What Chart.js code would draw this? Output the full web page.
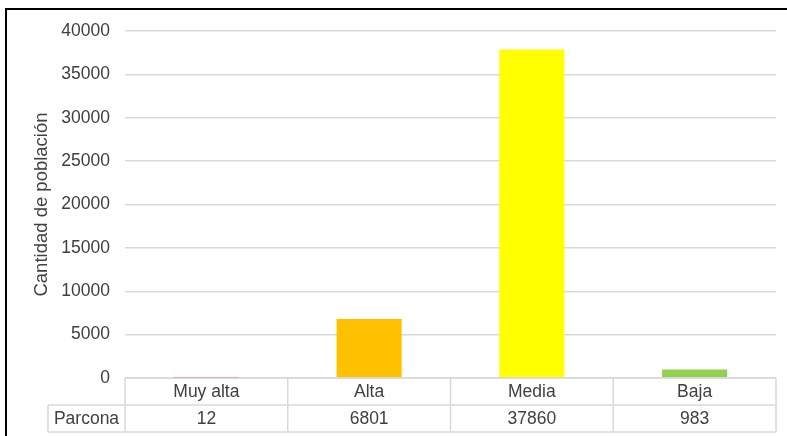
<!DOCTYPE html>
<html>
<head>
<meta charset="utf-8">
<script src="https://cdn.jsdelivr.net/npm/chart.js@4/dist/chart.umd.min.js"></script>
<style>
  html, body { margin: 0; padding: 0; background: #fff; overflow: hidden; }
  #wrap { position: relative; width: 787px; height: 436px; }
  #frame {
    position: absolute; left: 5px; top: 8px; width: 900px; height: 600px;
    border-left: 2px solid #000; border-top: 2px solid #000; pointer-events: none;
  }
</style>
</head>
<body>
<div id="wrap">
  <canvas id="myChart" width="787" height="436"></canvas>
  <div id="frame"></div>
</div>
<script>
var categories = ['Muy alta', 'Alta', 'Media', 'Baja'];
var seriesName = 'Parcona';
var poblacion = [12, 6801, 37860, 983];
var barColors = ['#FF0000', '#FFC000', '#FFFF00', '#92D050'];
var yTicks = [0, 5000, 10000, 15000, 20000, 25000, 30000, 35000, 40000];

var textColor = '#404040';
var lineColor = '#d9d9d9';
var fontFamily = '"Liberation Sans", Arial, sans-serif';
var fontSize = 17.5;

// tabla de datos bajo el eje X (como en Excel)
var dataTable = {
  id: 'dataTable',
  afterDraw: function (chart) {
    var ctx = chart.ctx;
    var x = chart.scales.x;
    var area = chart.chartArea;
    var n = categories.length;
    var colW = (area.right - area.left) / n;
    var rowH = 27;
    var top = area.bottom;
    var mid = top + rowH;
    var bottom = mid + rowH;
    var labelLeft = 48;

    ctx.save();
    ctx.strokeStyle = lineColor;
    ctx.lineWidth = 1.5;
    ctx.beginPath();
    ctx.moveTo(area.left, top); ctx.lineTo(area.right, top);
    ctx.moveTo(labelLeft, mid); ctx.lineTo(area.right, mid);
    ctx.moveTo(labelLeft, bottom); ctx.lineTo(area.right, bottom);
    ctx.moveTo(labelLeft, mid); ctx.lineTo(labelLeft, bottom);
    for (var i = 0; i <= n; i++) {
      var bx = area.left + i * colW;
      ctx.moveTo(bx, top); ctx.lineTo(bx, bottom);
    }
    ctx.stroke();

    ctx.fillStyle = textColor;
    ctx.font = fontSize + 'px ' + fontFamily;
    ctx.textAlign = 'center';
    ctx.textBaseline = 'middle';
    for (var j = 0; j < n; j++) {
      var cx = x.getPixelForValue(j);
      ctx.fillText(categories[j], cx, top + rowH / 2 + 1);
      ctx.fillText(String(poblacion[j]), cx, mid + rowH / 2 + 1);
    }
    ctx.fillText(seriesName, (labelLeft + area.left) / 2, mid + rowH / 2 + 1);
    ctx.restore();
  }
};

document.addEventListener('DOMContentLoaded', function () {
  var ctx = document.getElementById('myChart').getContext('2d');
  var chart = new Chart(ctx, {
    type: 'bar',
    data: {
      labels: categories,
      datasets: [{
        label: seriesName,
        data: poblacion,
        backgroundColor: barColors,
        borderWidth: 0,
        barPercentage: 0.5,
        categoryPercentage: 0.8
      }]
    },
    options: {
      responsive: false,
      animation: false,
      layout: { padding: { left: 31, top: 31, right: 11, bottom: 58 } },
      plugins: { legend: { display: false }, tooltip: { enabled: false } },
      scales: {
        x: { display: false },
        y: {
          min: 0,
          max: 40000,
          afterFit: function (scale) { scale.width = 94; },
          afterBuildTicks: function (scale) {
            scale.ticks = yTicks.map(function (v) { return { value: v }; });
          },
          ticks: {
            color: textColor,
            font: { family: fontFamily, size: fontSize },
            padding: 15,
            callback: function (v) { return String(v); }
          },
          grid: { color: lineColor, lineWidth: 1.5, drawTicks: false },
          border: { display: false },
          title: {
            display: true,
            text: 'Cantidad de población',
            color: textColor,
            font: { family: fontFamily, size: 18.5 },
            padding: 0
          }
        }
      }
    },
    plugins: [dataTable]
  });
});
</script>
</body>
</html>
